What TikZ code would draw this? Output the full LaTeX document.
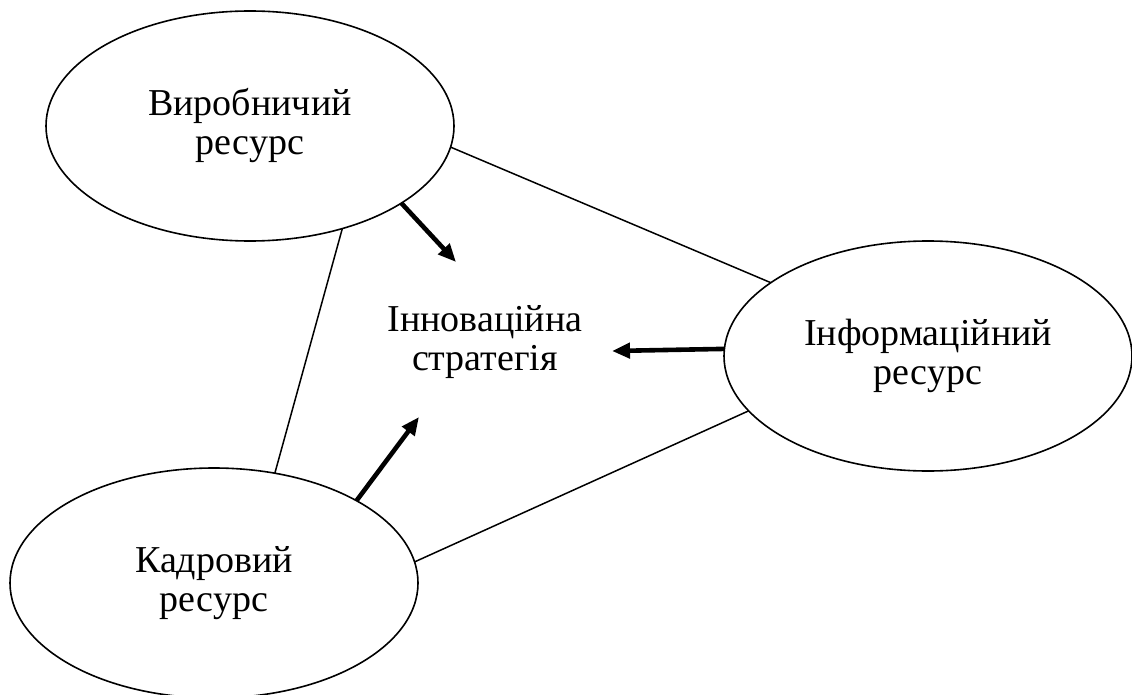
\documentclass[tikz,border=0pt]{standalone}
\usepackage{fontspec}
\setmainfont{Liberation Serif}
\usetikzlibrary{shapes.geometric,arrows.meta}
\begin{document}
\begin{tikzpicture}[x=1pt,y=-1pt,
  res/.style={draw, ellipse, line width=1.6pt, minimum width=408pt, minimum height=230pt,
    inner sep=0pt, outer sep=0pt, align=center, font=\fontsize{38}{39}\selectfont},
  link/.style={line width=1.5pt},
  push/.style={line width=4.6pt, -{Triangle[length=18pt,width=15pt]}},
  txt/.style={align=center, font=\fontsize{38}{39}\selectfont}]
\useasboundingbox (0,0) rectangle (1132,695);
\node[res] (e1) at (250,126) {Виробничий\\ресурс};
\node[res] (e2) at (928,356) {Інформаційний\\ресурс};
\node[res] (e3) at (214,583) {Кадровий\\ресурс};
\node[txt] (c) at (485,342) {Інноваційна\\стратегія};
\coordinate (t1) at (456,262);
\coordinate (t2) at (612,351);
\coordinate (t3) at (419,417);
\draw[link] (e1.-6.2) -- (e2.155.5);
\draw[link] (e1.-48.9) -- (e3.61.2);
\draw[link] (e3.6.5) -- (e2.-163.6);
\draw[push] (e1.-27.5) -- (t1);
\draw[push] (e2.178.5) -- (t2);
\draw[push] (e3.30.1) -- (t3);
\end{tikzpicture}
\end{document}
